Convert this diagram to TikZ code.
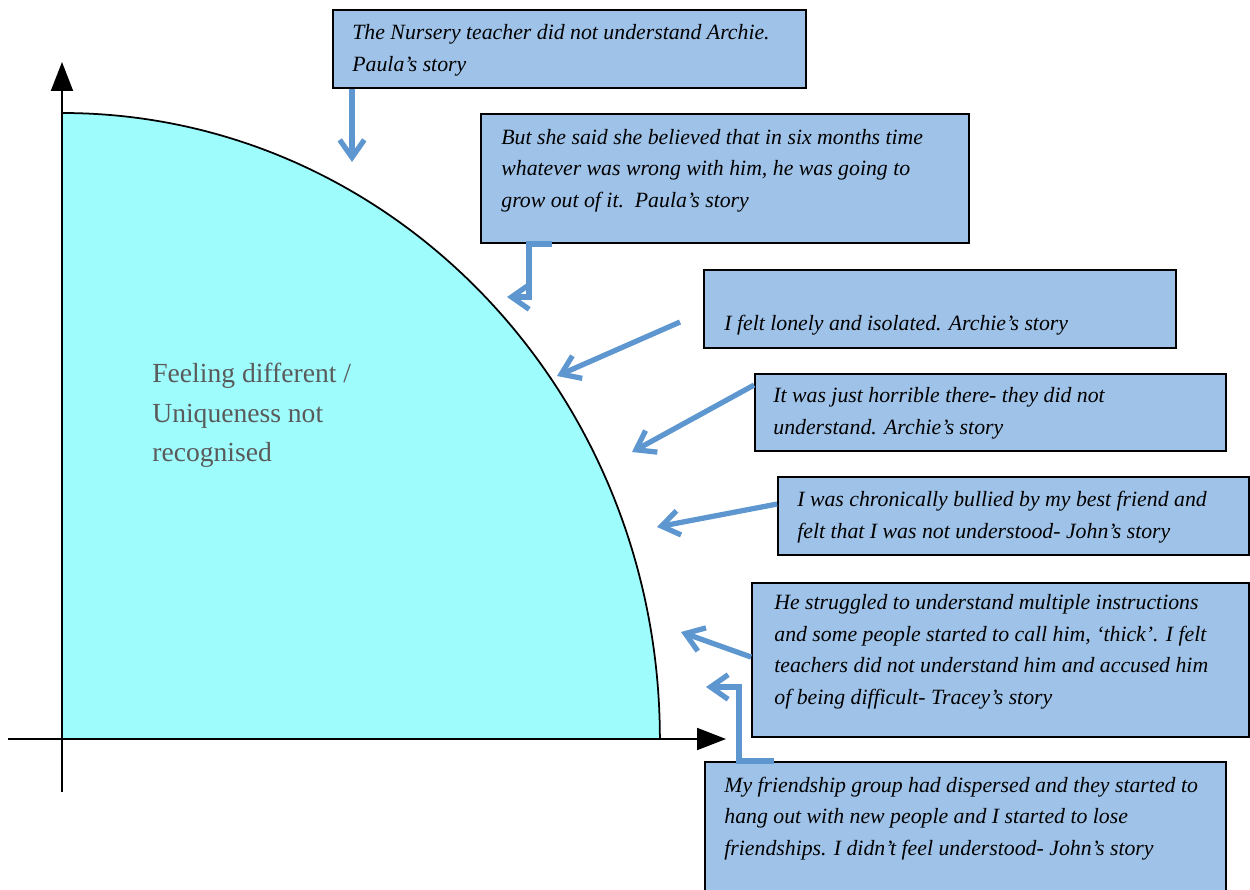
\documentclass[tikz,border=0pt]{standalone}
\usepackage{fontspec}
\setmainfont{Liberation Serif}
\usetikzlibrary{arrows.meta}
\definecolor{regionfill}{HTML}{9FFCFD}
\definecolor{boxfill}{HTML}{9FC2E8}
\definecolor{pointerblue}{HTML}{5E97CF}
\definecolor{labelgray}{HTML}{5A5A5A}
\begin{document}
\begin{tikzpicture}[x=0.02cm,y=-0.02cm,
  storybox/.style={draw=black, line width=1.1pt, fill=boxfill, rectangle, inner sep=0pt},
  % multi-line texts are placed by the baseline of their last line
  storytext/.style={anchor=base west, inner sep=0pt, align=left,
    font=\fontsize{12.4}{17.9}\selectfont\itshape},
  pointer/.style={draw=pointerblue, line width=3pt,
    -{Straight Barb[length=10pt,width=14pt,line width=3pt]}},
  axisline/.style={line width=1.1pt, -{Triangle[length=0.58cm,width=0.44cm]}}
]
\useasboundingbox (0,0) rectangle (1250,889);
\clip (0,0) rectangle (1250,889);

% quarter region under the curve
\coordinate (o) at (62,739);
\coordinate (top) at (62,113);
\fill[regionfill] (o) -- (top) arc[start angle=90, end angle=0, x radius=11.96cm, y radius=12.52cm] -- cycle;
\draw[line width=1pt] (top) arc[start angle=90, end angle=0, x radius=11.96cm, y radius=12.52cm];

% axes
\coordinate (ybot) at (62,792);
\coordinate (ytip) at (62,62);
\coordinate (xleft) at (8,739);
\coordinate (xtip) at (726,739);
\draw[axisline] (ybot) -- (ytip);
\draw[axisline] (xleft) -- (xtip);

% region label
\node[anchor=base west, inner sep=0pt, align=left, text=labelgray,
  font=\fontsize{15.7}{22.2}\selectfont] (lbl) at (152,461)
  {Feeling different /\\Uniqueness not\\recognised};

% story boxes
\node[storybox, minimum width=9.46cm, minimum height=1.56cm] (b1) at (569.5,49) {};
\node[storybox, minimum width=9.76cm, minimum height=2.58cm] (b2) at (725,178.5) {};
\node[storybox, minimum width=9.44cm, minimum height=1.56cm] (b3) at (940,309) {};
\node[storybox, minimum width=9.42cm, minimum height=1.54cm] (b4) at (990.5,412.5) {};
\node[storybox, minimum width=9.42cm, minimum height=1.56cm] (b5) at (1013.5,516) {};
\node[storybox, minimum width=9.94cm, minimum height=3.08cm] (b6) at (1000.5,660) {};
\node[storybox, minimum width=10.42cm, minimum height=2.76cm] (b7) at (965.5,831) {};

\node[storytext] (t1) at (352,71)
  {The Nursery teacher did not understand Archie.\\Paula’s story};
\node[storytext] (t2) at (501,207)
  {But she said she believed that in six months time\\whatever was wrong with him, he was going to\\grow out of it.\ \ Paula’s story};
\node[storytext] (t3) at (724,330)
  {I felt lonely and isolated. Archie’s story};
\node[storytext] (t4) at (773,434)
  {It was just horrible there- they did not\\understand. Archie’s story};
\node[storytext] (t5) at (797,538)
  {I was chronically bullied by my best friend and\\felt that I was not understood- John’s story};
\node[storytext] (t6) at (774,704)
  {He struggled to understand multiple instructions\\and some people started to call him, ‘thick’. I felt\\teachers did not understand him and accused him\\of being difficult- Tracey’s story};
\node[storytext] (t7) at (724,855)
  {My friendship group had dispersed and they started to\\hang out with new people and I started to lose\\friendships. I didn’t feel understood- John’s story};

% pointers to the curve
\coordinate (p1) at (352,162);
\coordinate (p2) at (507,297);
\coordinate (s3) at (680,322);
\coordinate (p3) at (557,376);
\coordinate (p4) at (632,452);
\coordinate (p5) at (657,527);
\coordinate (p6) at (681,632);
\coordinate (p7) at (706,687);

\draw[pointer] (p1 |- b1.south) -- (p1);
\draw[pointer] ([xshift=1.44cm]b2.south west) -- ([xshift=0.98cm]b2.south west) |- (p2);
\draw[pointer] (s3) -- (p3);
\draw[pointer] ([yshift=-0.24cm]b4.north west) -- (p4);
\draw[pointer] ([yshift=-0.56cm]b5.north west) -- (p5);
\draw[pointer] ([yshift=-1.5cm]b6.north west) -- (p6);
\draw[pointer] ([xshift=1.4cm]b7.north west) -- ([xshift=0.7cm]b7.north west) |- (p7);
\end{tikzpicture}
\end{document}
